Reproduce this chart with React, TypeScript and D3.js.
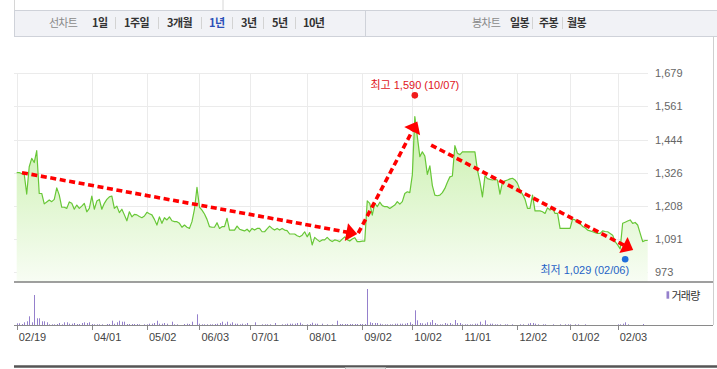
import React from "react";
import * as d3 from "d3";

// ---- data ----
const priceValues: number[] = [
  1326, 1326, 1323, 1321, 1250, 1347, 1377, 1362, 1404, 1252,
  1252, 1215, 1222, 1229, 1223, 1231, 1272, 1246, 1203, 1203,
  1199, 1222, 1217, 1196, 1211, 1199, 1207, 1217, 1187, 1199,
  1243, 1196, 1225, 1231, 1196, 1217, 1231, 1240, 1243, 1199,
  1207, 1184, 1196, 1176, 1155, 1187, 1169, 1178, 1176, 1170,
  1166, 1172, 1185, 1180, 1176, 1160, 1140, 1169, 1146, 1166,
  1158, 1169, 1155, 1152, 1152, 1146, 1132, 1140, 1132, 1128,
  1152, 1196, 1274, 1203, 1193, 1179, 1160, 1134, 1132, 1132,
  1148, 1128, 1134, 1134, 1164, 1122, 1122, 1122, 1136, 1125,
  1122, 1119, 1125, 1116, 1128, 1122, 1128, 1128, 1116, 1116,
  1126, 1136, 1128, 1122, 1128, 1122, 1128, 1122, 1120, 1108,
  1108, 1108, 1102, 1098, 1104, 1116, 1098, 1113, 1069, 1096,
  1088, 1081, 1087, 1087, 1096, 1087, 1081, 1087, 1085, 1081,
  1090, 1098, 1088, 1083, 1090, 1095, 1081, 1081, 1083, 1083,
  1226, 1217, 1175, 1217, 1205, 1221, 1209, 1205, 1205, 1199,
  1205, 1211, 1223, 1214, 1223, 1252, 1258, 1255, 1318, 1525,
  1454, 1383, 1400, 1385, 1320, 1350, 1280, 1246, 1244, 1246,
  1255, 1270, 1292, 1311, 1314, 1422, 1395, 1390, 1400, 1400,
  1400, 1400, 1400, 1400, 1335, 1294, 1240, 1315, 1305, 1302,
  1300, 1302, 1300, 1250, 1292, 1297, 1300, 1304, 1306, 1300,
  1288, 1264, 1249, 1232, 1199, 1199, 1246, 1190, 1190, 1190,
  1187, 1181, 1201, 1193, 1199, 1181, 1181, 1128, 1128, 1128,
  1128, 1128, 1161, 1158, 1152, 1145, 1135, 1130, 1122, 1119,
  1116, 1113, 1110, 1110, 1119, 1117, 1116, 1110, 1104, 1081,
  1069, 1055, 1146, 1150, 1154, 1158, 1146, 1149, 1140, 1110,
  1081, 1085, 1085,
];

// volume in thousand shares
const volumeValues: number[] = [
  1.7, 1.7, 1, 2.7, 3.7, 8.7, 2.7, 30, 6.7, 6.7,
  3.7, 3.7, 2.7, 0.7, 0.7, 0.7, 1, 2, 0.7, 2.7,
  2.7, 1.3, 1.3, 2, 1, 1, 2, 2.7, 2, 2.7,
  1, 0.7, 0.7, 0.7, 0.7, 0, 1, 1, 4.3, 1.3,
  2.7, 4.3, 3.3, 3.3, 1, 1, 1, 1, 1, 0.7,
  0, 0.7, 0.7, 1.3, 1.3, 2, 4.3, 1.3, 1.3, 2,
  1.3, 0, 3.3, 0.7, 0.7, 0, 0, 1, 1.3, 1,
  3.3, 0, 10.7, 1.3, 0.7, 0.7, 0.7, 0.7, 0.7, 1,
  1.3, 2, 3.3, 1.3, 3.3, 1.3, 2.7, 1.3, 1.3, 0.7,
  1.3, 0.7, 2, 0, 0, 2.7, 0, 0, 0.7, 0.7,
  0.7, 0.7, 0, 2, 0, 0, 0.7, 0.7, 1.3, 1.3,
  1.3, 1.3, 2, 2.3, 0.7, 0, 0.7, 1, 2.3, 1.3,
  1.3, 0, 1.3, 0, 0.7, 0, 0.7, 0, 4.3, 1,
  1, 1, 1, 1, 1, 1, 1, 1, 1, 1,
  36, 2.7, 2, 2, 2, 1.3, 0.7, 0.7, 0.7, 0.7,
  0.7, 1.3, 1.3, 1.3, 1.3, 1.3, 2, 2.7, 1, 14.7,
  4.7, 2, 1.7, 1.3, 2.7, 2.7, 5, 2, 0.7, 0.7,
  0.7, 2, 1.3, 2, 0.7, 5, 2, 2, 0.7, 0.7,
  0.7, 0.7, 0.7, 1.3, 1.3, 3.3, 0.7, 4.7, 0.7, 1.3,
  1.3, 0.7, 0.7, 0.7, 0, 0.7, 0.7, 0, 0.7, 0,
  0, 0.7, 0.7, 0, 1.3, 2, 2, 1.3, 0.7, 0,
  0.7, 0.7, 0, 0, 0.7, 0, 0, 0.7, 0, 0.7,
  0.7, 0.7, 0, 0.7, 0.7, 0, 0, 0.7, 0, 0,
  0, 0, 0, 0, 0, 0, 0, 0, 0, 0,
  0.7, 0.7, 1.3, 2.7, 0.7, 0, 0, 0, 0, 0,
  1, 0, 0,
];

const xTickLabels = ["02/19", "04/01", "05/02", "06/03", "07/01", "08/01", "09/02", "10/02", "11/01", "12/02", "01/02", "02/03"];
const xTickIndex = [0, 30, 52, 73, 93, 116, 138, 158, 178, 200, 221, 240];
const yTickValues = [973, 1090.67, 1208.33, 1326, 1443.67, 1561.33, 1679];

const highPoint = { index: 159, value: 1590, label: "최고 1,590 (10/07)" };
const lowPoint = { index: 243, value: 1029, label: "최저 1,029 (02/06)" };

// trend arrows: [startIndex, startValue, endIndex, endValue]
const trendArrows: number[][] = [
  [2.1, 1326, 136, 1108],
  [136.4, 1111, 160, 1508],
  [165.5, 1424, 246.2, 1051],
];

const lineTabs = ["1일", "1주일", "3개월", "1년", "3년", "5년", "10년"];
const activeTab = "1년";
const candleTabs = ["일봉", "주봉", "월봉"];
const volumeLegend = "거래량";

// ---- layout ----
const W = 717;
const H = 369;
const FONT = "'Liberation Sans', 'Noto Sans CJK KR', sans-serif";
const KFONT = "'Noto Sans CJK KR', 'Liberation Sans', sans-serif";
const lineTabX = [92, 124, 167, 209, 241, 272, 303];
const lineSepX = [115, 158, 201, 232, 263, 295];
const candleTabX = [510, 539, 567];
const candleSepX = [532, 562];

export default function App() {
  const n = priceValues.length;
  const x = d3.scaleLinear().domain([0, n - 1]).range([16.7, 647.7]);
  const y = d3.scaleLinear().domain([937.5, 1679]).range([282, 73.3]);
  const yv = d3.scaleLinear().domain([0, 36]).range([325, 289]);
  const fmt = d3.format(",.0f");

  const line = d3.line<number>().x((_, i) => x(i)).y((d) => y(d));
  const area = d3.area<number>().x((_, i) => x(i)).y0(282).y1((d) => y(d));

  const arrows = trendArrows.map(([i0, v0, i1, v1], k) => {
    const x0 = x(i0), y0 = y(v0), x1 = x(i1), y1 = y(v1);
    const dx = x1 - x0, dy = y1 - y0;
    const len = Math.hypot(dx, dy);
    const ux = dx / len, uy = dy / len;
    const hl = 11, hw = 9;
    const bx = x1 - ux * hl, by = y1 - uy * hl;
    const pts = [
      [x1, y1],
      [bx - uy * hw, by + ux * hw],
      [bx + uy * hw, by - ux * hw],
    ];
    return (
      <g key={k}>
        <line x1={x0} y1={y0} x2={bx + ux * 2} y2={by + uy * 2} stroke="#ff0000" strokeWidth={3.6} strokeDasharray="6 3.6" />
        <polygon points={pts.map((p) => p.join(",")).join(" ")} fill="#ff0000" />
      </g>
    );
  });

  return (
    <svg width={W} height={H} style={{ position: "absolute", left: 0, top: 0, background: "#fff" }} fontFamily={FONT}>
      <defs>
        <linearGradient id="areaGrad" gradientUnits="userSpaceOnUse" x1="0" y1="110" x2="0" y2="282">
          <stop offset="0" stopColor="#c6efa8" />
          <stop offset="1" stopColor="#f8fdf4" />
        </linearGradient>
      </defs>

      {/* header */}
      <rect x={14.5} y={-1} width={208.5} height={11.5} fill="#fff" stroke="#d6d6d6" />
      <rect x={14.5} y={10.5} width={703} height={26} fill="#f1f2f6" stroke="#cfd2d9" />
      <line x1={365.5} x2={365.5} y1={10.5} y2={36.5} stroke="#cfd2d9" />
      <text x={49} y={27} fontSize={11} fill="#8a8a8a" fontFamily={KFONT} letterSpacing={-0.8}>선차트</text>
      {lineTabs.map((t, i) => (
        <text key={t} x={lineTabX[i]} y={27} fontSize={11} fontWeight="bold" fill={t === activeTab ? "#2b50b8" : "#333"} fontFamily={KFONT} letterSpacing={-0.6}>{t}</text>
      ))}
      {lineSepX.map((sx) => (
        <line key={sx} x1={sx + 0.5} x2={sx + 0.5} y1={17} y2={29} stroke="#d3d3d3" />
      ))}
      <text x={472} y={27} fontSize={11} fill="#8a8a8a" fontFamily={KFONT} letterSpacing={-0.8}>봉차트</text>
      {candleTabs.map((t, i) => (
        <text key={t} x={candleTabX[i]} y={27} fontSize={11} fontWeight="bold" fill="#333" fontFamily={KFONT} letterSpacing={-0.6}>{t}</text>
      ))}
      {candleSepX.map((sx) => (
        <line key={sx} x1={sx + 0.5} x2={sx + 0.5} y1={17} y2={29} stroke="#d3d3d3" />
      ))}

      {/* right border */}
      <line x1={713.5} x2={713.5} y1={36.5} y2={325} stroke="#cfcfcf" />

      {/* grid */}
      {yTickValues.map((v) => (
        <line key={v} x1={14} x2={648} y1={Math.round(y(v)) + 0.5} y2={Math.round(y(v)) + 0.5} stroke="#ebebeb" />
      ))}
      {xTickIndex.map((ti) => (
        <line key={ti} x1={Math.round(x(ti)) + 0.5} x2={Math.round(x(ti)) + 0.5} y1={73} y2={282} stroke="#ebebeb" />
      ))}

      {/* area + line */}
      <path d={area(priceValues) || ""} fill="url(#areaGrad)" />
      <path d={line(priceValues) || ""} fill="none" stroke="#68c737" strokeWidth={1.2} strokeLinejoin="round" />

      {/* axis */}
      <line x1={14} x2={713} y1={282} y2={282} stroke="#7f7f7f" strokeWidth={1.5} />
      {yTickValues.map((v) => (
        <text key={v} x={655} y={y(v) + 4} fontSize={11} fill="#666">{fmt(v)}</text>
      ))}

      {/* trend arrows */}
      {arrows}

      {/* high / low */}
      <circle cx={x(highPoint.index)} cy={y(highPoint.value) - 3} r={3.3} fill="#f01c1c" />
      <text x={x(highPoint.index)} y={y(highPoint.value) - 9.5} fontSize={11} fill="#e0141c" textAnchor="middle">{highPoint.label}</text>
      <circle cx={x(lowPoint.index)} cy={y(lowPoint.value) + 3} r={3.3} fill="#1e6fdc" />
      <text x={x(lowPoint.index) + 4} y={y(lowPoint.value) + 18} fontSize={11} fill="#1f63c6" textAnchor="end">{lowPoint.label}</text>

      {/* volume */}
      {volumeValues.map((v, i) =>
        v > 0 ? (
          <rect key={i} x={Math.round(x(i))} y={yv(v)} width={1} height={325 - yv(v)} fill="#9580cc" />
        ) : null
      )}
      <line x1={14} x2={713} y1={325.5} y2={325.5} stroke="#8a8a8a" />
      {xTickIndex.map((ti, k) => (
        <g key={ti}>
          <line x1={Math.round(x(ti)) + 0.5} x2={Math.round(x(ti)) + 0.5} y1={325} y2={330} stroke="#888" />
          <text x={x(ti) + 2} y={341} fontSize={11} fill="#444">{xTickLabels[k]}</text>
        </g>
      ))}
      <rect x={666.5} y={291.3} width={2.7} height={7.4} fill="#9580cc" />
      <text x={671.5} y={299.5} fontSize={11} fill="#333" fontFamily={KFONT} letterSpacing={-0.8}>{volumeLegend}</text>

      {/* bottom */}
      <line x1={14} x2={717} y1={366.5} y2={366.5} stroke="#555" strokeWidth={2.5} />
      <rect x={345.5} y={367.5} width={40} height={3} fill="#e6e6e6" stroke="#b5b5b5" />
    </svg>
  );
}
